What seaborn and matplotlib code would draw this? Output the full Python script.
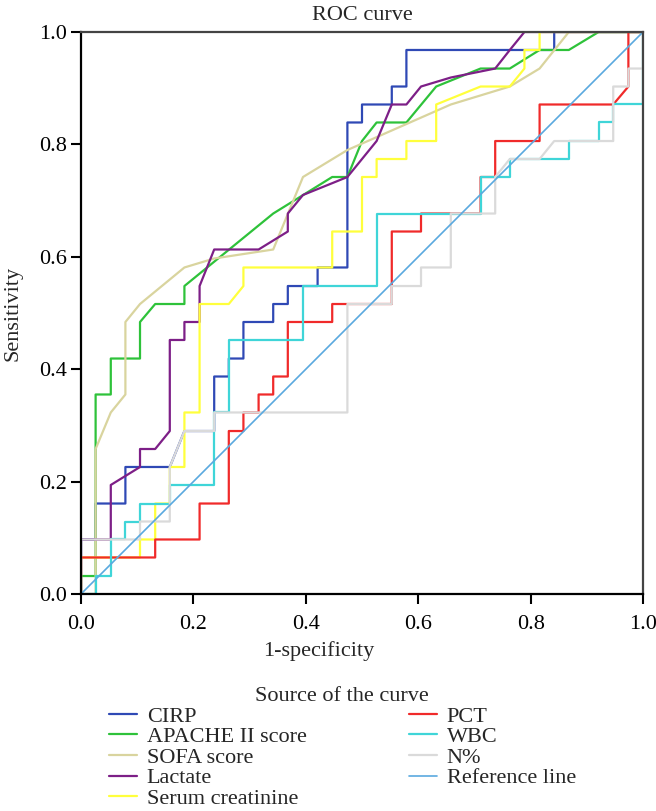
import pandas as pd
import seaborn as sns
import matplotlib.pyplot as plt

# ROC curve coordinates (1-specificity, sensitivity)
cirp_x = [0, 0, 0.026, 0.026, 0.079, 0.079, 0.158, 0.184, 0.237, 0.237, 0.263, 0.263, 0.289, 0.289, 0.342, 0.342,
          0.368, 0.368, 0.421, 0.421, 0.474, 0.474, 0.5, 0.5, 0.553, 0.553, 0.579, 0.579, 0.842, 0.842, 1.0]
cirp_y = [0, 0.097, 0.097, 0.161, 0.161, 0.226, 0.226, 0.29, 0.29, 0.387, 0.387, 0.419, 0.419, 0.484, 0.484, 0.516,
          0.516, 0.548, 0.548, 0.581, 0.581, 0.839, 0.839, 0.871, 0.871, 0.903, 0.903, 0.968, 0.968, 1.0, 1.0]

apache_x = [0, 0, 0.026, 0.026, 0.053, 0.053, 0.105, 0.105, 0.132, 0.184, 0.184, 0.342, 0.447, 0.474, 0.5, 0.526,
            0.579, 0.632, 0.711, 0.763, 0.816, 0.868, 0.921, 1.0]
apache_y = [0, 0.032, 0.032, 0.355, 0.355, 0.419, 0.419, 0.484, 0.516, 0.516, 0.548, 0.677, 0.742, 0.742, 0.806, 0.839,
            0.839, 0.903, 0.935, 0.935, 0.968, 0.968, 1.0, 1.0]

sofa_x = [0, 0.026, 0.026, 0.053, 0.079, 0.079, 0.105, 0.184, 0.237, 0.342, 0.395, 0.474, 0.658, 0.763, 0.816, 0.868, 1.0]
sofa_y = [0, 0, 0.258, 0.323, 0.355, 0.484, 0.516, 0.581, 0.597, 0.613, 0.742, 0.79, 0.871, 0.903, 0.935, 1.0, 1.0]

lact_x = [0, 0, 0.053, 0.053, 0.105, 0.105, 0.132, 0.158, 0.158, 0.184, 0.184, 0.211, 0.211, 0.237, 0.316, 0.368,
          0.368, 0.395, 0.447, 0.474, 0.526, 0.553, 0.579, 0.605, 0.658, 0.737, 0.763, 0.789, 1.0]
lact_y = [0, 0.097, 0.097, 0.194, 0.226, 0.258, 0.258, 0.29, 0.452, 0.452, 0.484, 0.484, 0.548, 0.613, 0.613, 0.645,
          0.677, 0.71, 0.731, 0.742, 0.806, 0.871, 0.871, 0.903, 0.919, 0.935, 0.968, 1.0, 1.0]

scr_x = [0, 0, 0.105, 0.105, 0.132, 0.132, 0.158, 0.158, 0.184, 0.184, 0.211, 0.211, 0.263, 0.289, 0.289, 0.447,
         0.447, 0.5, 0.5, 0.526, 0.526, 0.579, 0.579, 0.632, 0.632, 0.711, 0.763, 0.789, 0.789, 0.816, 0.816, 1.0]
scr_y = [0, 0.065, 0.065, 0.097, 0.097, 0.161, 0.161, 0.226, 0.226, 0.323, 0.323, 0.516, 0.516, 0.548, 0.581, 0.581,
         0.645, 0.645, 0.742, 0.742, 0.774, 0.774, 0.806, 0.806, 0.871, 0.903, 0.903, 0.935, 0.968, 0.968, 1.0, 1.0]

pct_x = [0, 0, 0.132, 0.132, 0.211, 0.211, 0.263, 0.263, 0.289, 0.289, 0.316, 0.316, 0.342, 0.342, 0.368, 0.368,
         0.447, 0.447, 0.553, 0.553, 0.605, 0.605, 0.711, 0.711, 0.737, 0.737, 0.816, 0.816, 0.947, 0.974, 0.974, 1.0]
pct_y = [0, 0.065, 0.065, 0.097, 0.097, 0.161, 0.161, 0.29, 0.29, 0.323, 0.323, 0.355, 0.355, 0.387, 0.387, 0.484,
         0.484, 0.516, 0.516, 0.645, 0.645, 0.677, 0.677, 0.742, 0.742, 0.806, 0.806, 0.871, 0.871, 0.903, 1.0, 1.0]

wbc_x = [0, 0.026, 0.026, 0.053, 0.053, 0.079, 0.079, 0.105, 0.105, 0.158, 0.158, 0.237, 0.237, 0.263, 0.263, 0.395,
         0.395, 0.526, 0.526, 0.711, 0.711, 0.763, 0.763, 0.868, 0.868, 0.921, 0.921, 0.947, 0.947, 1.0, 1.0]
wbc_y = [0, 0, 0.032, 0.032, 0.097, 0.097, 0.129, 0.129, 0.161, 0.161, 0.194, 0.194, 0.323, 0.323, 0.452, 0.452,
         0.548, 0.548, 0.677, 0.677, 0.742, 0.742, 0.774, 0.774, 0.806, 0.806, 0.839, 0.839, 0.871, 0.871, 1.0]

neu_x = [0, 0, 0.105, 0.105, 0.158, 0.158, 0.184, 0.237, 0.237, 0.474, 0.474, 0.553, 0.553, 0.605, 0.605, 0.658,
         0.658, 0.737, 0.737, 0.763, 0.816, 0.842, 0.947, 0.947, 0.974, 0.974, 1.0, 1.0]
neu_y = [0, 0.097, 0.097, 0.129, 0.129, 0.226, 0.29, 0.29, 0.323, 0.323, 0.516, 0.516, 0.548, 0.548, 0.581, 0.581,
         0.677, 0.677, 0.742, 0.774, 0.774, 0.806, 0.806, 0.903, 0.903, 0.935, 0.935, 1.0]

ref_x = [0, 1]
ref_y = [0, 1]

series = [
    ('CIRP', cirp_x, cirp_y, '#2f49b5', 1.6),
    ('APACHE II score', apache_x, apache_y, '#2ec23a', 1.6),
    ('SOFA score', sofa_x, sofa_y, '#d9d49e', 1.6),
    ('Lactate', lact_x, lact_y, '#7d1f87', 1.6),
    ('Serum creatinine', scr_x, scr_y, '#ffff3c', 1.6),
    ('PCT', pct_x, pct_y, '#f02a2a', 1.6),
    ('WBC', wbc_x, wbc_y, '#3fd5d8', 1.6),
    ('N%', neu_x, neu_y, '#dadada', 1.6),
    ('Reference line', ref_x, ref_y, '#5aa9df', 1.2),
]

sns.set_style('white')
plt.rcParams['font.family'] = ['Liberation Serif', 'DejaVu Serif']
fs = 16

fig = plt.figure(figsize=(6.56, 8.11), dpi=100)
ax = fig.add_axes([81 / 656, 1 - 594 / 811, 562 / 656, 562 / 811])

for name, xs, ys, col, lw in series:
    df = pd.DataFrame({'x': xs, 'y': ys})
    sns.lineplot(data=df, x='x', y='y', sort=False, estimator=None, color=col, lw=lw, label=name, ax=ax,
                 legend=False)

ax.set_xlim(0, 1)
ax.set_ylim(0, 1)
ax.set_xticks([0, 0.2, 0.4, 0.6, 0.8, 1.0])
ax.set_yticks([0, 0.2, 0.4, 0.6, 0.8, 1.0])
ax.set_xticklabels(['0.0', '0.2', '0.4', '0.6', '0.8', '1.0'])
ax.set_yticklabels(['0.0', '0.2', '0.4', '0.6', '0.8', '1.0'])
ax.tick_params(direction='out', length=7, width=1.5, labelsize=fs, colors='black', bottom=True, left=True)
ax.tick_params(axis='x', pad=8)
ax.tick_params(axis='y', pad=3)

for s in ['left', 'bottom']:
    ax.spines[s].set_color('black')
    ax.spines[s].set_linewidth(1.6)
for s in ['top', 'right']:
    ax.spines[s].set_color('#444444')
    ax.spines[s].set_linewidth(1.6)

ax.set_title('ROC curve', fontsize=fs, pad=9)
ax.set_xlabel('1-specificity', fontsize=fs)
ax.set_ylabel('Sensitivity', fontsize=fs)
ax.xaxis.set_label_coords(0.4235, -0.083)
ax.yaxis.set_label_coords(-0.104, 0.5)

handles, labels = ax.get_legend_handles_labels()
fig.legend(handles, labels, loc='upper left', bbox_to_anchor=(0.149, 1 - 676 / 811), ncol=2, frameon=False,
           title='Source of the curve', fontsize=fs, title_fontsize=fs, handlelength=1.25, handletextpad=0.45,
           columnspacing=4.6, labelspacing=0.0, borderpad=0)

plt.savefig('out.png', dpi=100)
